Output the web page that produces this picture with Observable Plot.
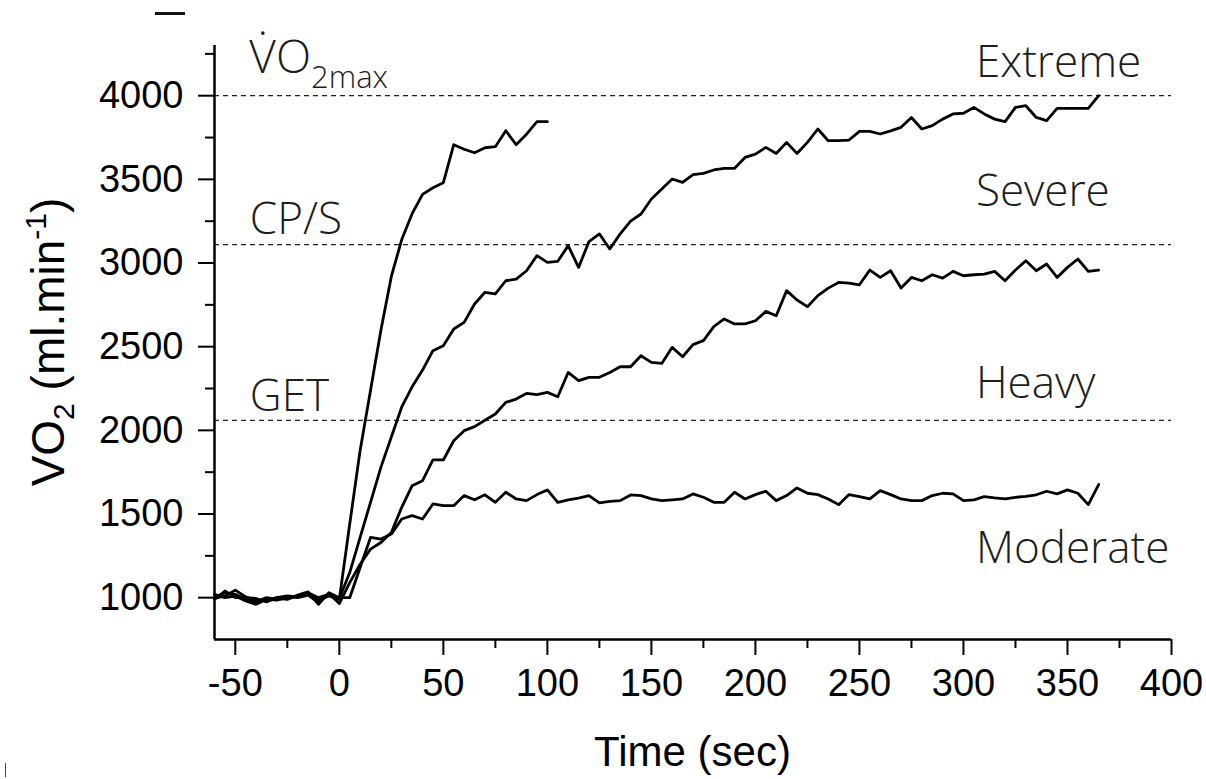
<!DOCTYPE html>
<html>
<head>
<meta charset="utf-8">
<script src="https://cdn.jsdelivr.net/npm/d3@7"></script>
<script src="https://cdn.jsdelivr.net/npm/@observablehq/plot@0.6"></script>
<style>
  body { margin: 0; background: #fff; }
  #chart { position: relative; width: 1206px; height: 779px; overflow: hidden; }
  .mark-dash { position: absolute; left: 155px; top: 12px; width: 30px; height: 3px; background: #111; }
  .mark-bar { position: absolute; left: 5px; top: 763px; width: 1px; height: 14px; background: #444; }
</style>
</head>
<body>
<div id="chart"><div class="mark-dash"></div><div class="mark-bar"></div></div>
<script>
// ---- data (time in s, VO2 in ml/min) ----
const time = [
  -60, -55, -50, -45, -40, -35, -30, -25, -20, -15,
  -10, -5, 0, 5, 10, 15, 20, 25, 30, 35,
  40, 45, 50, 55, 60, 65, 70, 75, 80, 85,
  90, 95, 100, 105, 110, 115, 120, 125, 130, 135,
  140, 145, 150, 155, 160, 165, 170, 175, 180, 185,
  190, 195, 200, 205, 210, 215, 220, 225, 230, 235,
  240, 245, 250, 255, 260, 265, 270, 275, 280, 285,
  290, 295, 300, 305, 310, 315, 320, 325, 330, 335,
  340, 345, 350, 355, 360, 365
];
const extreme = [
  1000, 1030, 1020, 990, 975, 1000, 990, 995, 1010, 1020,
  985, 1010, 990, 1440, 1880, 2240, 2600, 2920, 3140, 3295,
  3410, 3450, 3480, 3707, 3680, 3659, 3689, 3695, 3791, 3707,
  3770, 3845, 3845
];
const severe = [
  995, 1010, 1045, 1005, 980, 985, 1000, 1010, 1005, 1030,
  1000, 1020, 995, 1150, 1360, 1570, 1780, 1960, 2140, 2260,
  2360, 2476, 2506, 2606, 2645, 2755, 2825, 2815, 2894, 2904,
  2954, 3044, 3004, 3010, 3104, 2974, 3128, 3174, 3084, 3174,
  3250, 3293, 3383, 3442, 3502, 3482, 3528, 3536, 3556, 3566,
  3566, 3631, 3651, 3691, 3655, 3721, 3655, 3721, 3801, 3731,
  3731, 3735, 3787, 3787, 3771, 3790, 3811, 3870, 3801, 3821,
  3860, 3891, 3895, 3930, 3891, 3860, 3845, 3930, 3940, 3870,
  3851, 3924, 3924, 3924, 3924, 4000
];
const heavy = [
  1020, 1000, 1010, 980, 960, 990, 985, 1005, 1000, 1015,
  970, 1025, 965, 1090, 1200, 1290, 1330, 1390, 1540, 1669,
  1699, 1823, 1823, 1938, 1998, 2022, 2060, 2098, 2167, 2187,
  2221, 2213, 2227, 2201, 2346, 2297, 2317, 2317, 2346, 2380,
  2380, 2446, 2406, 2400, 2496, 2440, 2512, 2536, 2620, 2666,
  2636, 2636, 2655, 2711, 2685, 2835, 2779, 2739, 2805, 2850,
  2884, 2880, 2870, 2958, 2914, 2954, 2851, 2914, 2894, 2930,
  2910, 2950, 2924, 2930, 2934, 2950, 2894, 2958, 3014, 2954,
  2994, 2914, 2974, 3024, 2950, 2958
];
const moderate = [
  990, 1040, 1000, 1000, 995, 975, 1000, 990, 1015, 1035,
  960, 1030, 1000, 1000, 1180, 1360, 1350, 1380, 1470, 1490,
  1470, 1560, 1550, 1550, 1610, 1585, 1615, 1570, 1630, 1590,
  1580, 1616, 1644, 1570, 1584, 1595, 1610, 1566, 1575, 1580,
  1614, 1610, 1590, 1580, 1585, 1590, 1620, 1600, 1570, 1570,
  1630, 1590, 1616, 1636, 1580, 1610, 1656, 1624, 1616, 1590,
  1556, 1616, 1604, 1590, 1640, 1616, 1590, 1580, 1580, 1610,
  1624, 1620, 1580, 1584, 1604, 1596, 1590, 1600, 1605, 1615,
  1636, 1620, 1644, 1624, 1556, 1676
];
const seriesNames = ["Extreme", "Severe", "Heavy", "Moderate"];
const thresholds = [4000, 3110, 2060];          // VO2max, CP/S, GET
const thresholdNames = ["VO2max", "CP/S", "GET"];
const xTicks = [-50, 0, 50, 100, 150, 200, 250, 300, 350, 400];
const xMinorTicks = [-25, 25, 75, 125, 175, 225, 275, 325, 375];
const yTicks = [1000, 1500, 2000, 2500, 3000, 3500, 4000];
const yMinorTicks = [1250, 1750, 2250, 2750, 3250, 3750, 4250];

// ---- layout (kept apart from the data) ----
const layout = {
  zoneX: 306,
  zoneY: [4114, 3343, 2195, 1209],
  leftX: -43,
  leftY: {"CP/S": 3175, "GET": 2118},
  vo2maxY: 4131
};

const rows = [];
[extreme, severe, heavy, moderate].forEach((vals, k) => {
  vals.forEach((v, i) => rows.push({time: time[i], vo2: v, series: seriesNames[k]}));
});

const zoneLabels = seriesNames.map((s, i) => ({text: s, x: layout.zoneX, y: layout.zoneY[i]}));
const leftLabels = ["CP/S", "GET"].map(s => ({text: s, x: layout.leftX, y: layout.leftY[s]}));

const annFont = "'Open Sans', 'Noto Sans', sans-serif";
const axFont = "'Liberation Sans', Arial, sans-serif";

const chart = Plot.plot({
  width: 1206,
  height: 779,
  marginLeft: 214,
  marginRight: 35,
  marginTop: 45,
  marginBottom: 140,
  style: {fontFamily: axFont, background: "white", color: "#000"},
  x: {domain: [-60, 400], label: null},
  y: {domain: [750, 4300], label: null},
  marks: [
    Plot.ruleY(thresholds, {stroke: "#222", strokeWidth: 1.2, strokeDasharray: "5,4"}),
    Plot.line(rows, {x: "time", y: "vo2", z: "series", stroke: "#000", strokeWidth: 2.8, strokeLinejoin: "round"}),
    Plot.axisX({ticks: xTicks, tickSize: 16, tickPadding: 14, fontSize: 38, strokeWidth: 2, tickFormat: d => String(d)}),
    Plot.axisX({ticks: xMinorTicks, tickSize: 9, strokeWidth: 2, tickFormat: () => ""}),
    Plot.axisY({ticks: yTicks, tickSize: 16, tickPadding: 15, fontSize: 38, strokeWidth: 2, tickFormat: d => String(d)}),
    Plot.axisY({ticks: yMinorTicks, tickSize: 9, strokeWidth: 2, tickFormat: () => ""}),
    Plot.ruleY([750], {strokeWidth: 2.5}),
    Plot.ruleX([-60], {strokeWidth: 2.5}),
    Plot.text(zoneLabels, {x: "x", y: "y", text: "text", textAnchor: "start", lineAnchor: "bottom",
      fontSize: 44, fontFamily: annFont, fontWeight: 300, fill: "#1e1e1e"}),
    Plot.text(leftLabels, {x: "x", y: "y", text: "text", textAnchor: "start", lineAnchor: "bottom",
      fontSize: 44, fontFamily: annFont, fontWeight: 300, fill: "#1e1e1e"})
  ]
});

const sx = chart.scale("x"), sy = chart.scale("y");
const svg = d3.select(chart);

// VO2max label with dot and subscript
const vm = svg.append("text")
  .attr("x", sx.apply(layout.leftX))
  .attr("y", sy.apply(layout.vo2maxY))
  .attr("text-anchor", "start")
  .attr("fill", "#1e1e1e")
  .style("font-family", annFont).style("font-weight", 300).style("font-size", "46px");
vm.append("tspan").text("V\u0307O");
vm.append("tspan").attr("dy", 15).style("font-size", "31px").text("2max");

// y-axis title
const [r0, r1] = sy.range;
const yl = svg.append("text")
  .attr("transform", `translate(64,${(r0 + r1) / 2}) rotate(-90)`)
  .attr("text-anchor", "middle")
  .attr("fill", "#000")
  .style("font-family", axFont).style("font-size", "46px");
yl.append("tspan").text("VO");
yl.append("tspan").attr("dy", 10).style("font-size", "30px").text("2");
yl.append("tspan").attr("dy", -10).text(" (ml.min");
yl.append("tspan").attr("dy", -18).style("font-size", "30px").text("-1");
yl.append("tspan").attr("dy", 18).text(")");

// x-axis title
const [c0, c1] = sx.range;
svg.append("text")
  .attr("x", (c0 + c1) / 2)
  .attr("y", 766)
  .attr("text-anchor", "middle")
  .attr("fill", "#000")
  .style("font-family", axFont).style("font-size", "42px")
  .text("Time (sec)");

document.getElementById("chart").appendChild(chart);
</script>
</body>
</html>
